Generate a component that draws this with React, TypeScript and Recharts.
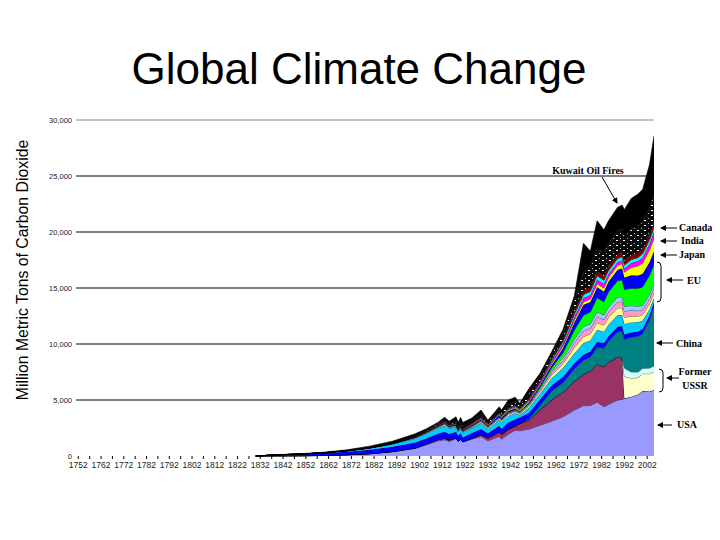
import React from 'react';
import { AreaChart, Area, XAxis, YAxis, CartesianGrid } from 'recharts';

const years = [1830, 1840, 1850, 1860, 1870, 1880, 1890, 1900, 1905, 1910, 1913, 1915, 1918, 1919, 1920, 1921, 1925, 1929, 1932, 1937, 1938, 1941, 1944, 1946, 1950, 1955, 1960, 1965, 1970, 1974, 1977, 1980, 1983, 1985, 1989, 1991, 1992, 1995, 1998, 2000, 2003, 2005];

const usa = [0, 10, 20, 45, 100, 190, 370, 660, 1000, 1350, 1450, 1300, 1550, 1300, 1500, 1250, 1500, 1750, 1350, 1750, 1500, 1950, 2300, 2250, 2400, 2750, 3100, 3500, 4100, 4500, 4500, 4800, 4400, 4600, 5000, 5050, 5150, 5300, 5500, 5800, 5750, 5900];
const formerUssr = [0, 0, 2, 4, 8, 15, 30, 60, 80, 110, 140, 130, 60, 30, 30, 30, 80, 150, 250, 400, 420, 450, 380, 650, 800, 1400, 1900, 2200, 2550, 2800, 3100, 3400, 3600, 3750, 3850, 3700, 0, 0, 0, 0, 0, 0];
const russia = [0, 0, 0, 0, 0, 0, 0, 0, 0, 0, 0, 0, 0, 0, 0, 0, 0, 0, 0, 0, 0, 0, 0, 0, 0, 0, 0, 0, 0, 0, 0, 0, 0, 0, 0, 0, 1950, 1650, 1500, 1550, 1600, 1650];
const otherFsu = [0, 0, 0, 0, 0, 0, 0, 0, 0, 0, 0, 0, 0, 0, 0, 0, 0, 0, 0, 0, 0, 0, 0, 0, 0, 0, 0, 0, 0, 0, 0, 0, 0, 0, 0, 0, 750, 550, 500, 480, 500, 500];
const china = [0, 0, 0, 0, 0, 0, 0, 0, 0, 0, 0, 0, 0, 0, 0, 0, 0, 0, 0, 0, 0, 0, 0, 0, 100, 400, 800, 850, 1150, 1250, 1250, 1500, 1650, 1900, 2250, 2400, 2550, 3100, 3200, 3100, 4300, 5300];
const uk = [0, 95, 140, 210, 280, 360, 430, 480, 500, 530, 580, 540, 550, 480, 520, 380, 480, 520, 440, 540, 520, 580, 600, 540, 550, 520, 500, 500, 480, 480, 470, 480, 450, 450, 450, 450, 440, 430, 420, 420, 410, 400];
const germany = [0, 7, 15, 35, 70, 130, 220, 360, 420, 500, 560, 480, 450, 380, 420, 440, 430, 520, 380, 540, 580, 600, 560, 250, 450, 500, 650, 800, 900, 1050, 1000, 1100, 1000, 1050, 1050, 1000, 950, 900, 850, 750, 550, 400];
const euA = [0, 0, 0, 0, 10, 20, 30, 50, 60, 70, 80, 70, 70, 60, 70, 65, 80, 100, 85, 110, 105, 110, 110, 100, 140, 200, 280, 380, 500, 580, 580, 620, 580, 600, 620, 620, 600, 560, 520, 500, 480, 450];
const euB = [0, 0, 0, 0, 0, 10, 20, 35, 40, 50, 55, 50, 50, 45, 50, 45, 55, 70, 60, 80, 75, 80, 80, 70, 100, 150, 220, 300, 420, 500, 500, 540, 500, 520, 540, 550, 540, 520, 480, 460, 440, 420];
const euC = [0, 0, 0, 0, 0, 0, 10, 20, 25, 30, 35, 30, 30, 30, 35, 30, 40, 50, 40, 55, 50, 55, 55, 50, 70, 110, 160, 230, 330, 400, 400, 430, 400, 420, 430, 440, 430, 420, 400, 390, 380, 380];
const euD = [0, 0, 0, 0, 0, 0, 0, 0, 0, 10, 15, 15, 15, 15, 20, 20, 25, 30, 25, 35, 35, 40, 40, 35, 60, 120, 250, 450, 800, 1000, 1050, 1250, 1200, 1350, 1450, 1500, 1500, 1550, 1600, 1650, 1700, 1700];
const japan = [0, 0, 0, 0, 0, 0, 5, 20, 30, 40, 50, 50, 60, 55, 60, 55, 70, 90, 80, 140, 150, 160, 140, 60, 140, 180, 240, 400, 700, 950, 900, 950, 900, 950, 1000, 1050, 1080, 1150, 1150, 1180, 1200, 1200];
const india = [0, 0, 0, 0, 0, 0, 0, 0, 20, 25, 30, 30, 35, 35, 40, 40, 45, 50, 50, 60, 60, 70, 75, 75, 80, 100, 130, 170, 200, 240, 270, 300, 330, 350, 380, 420, 480, 700, 850, 950, 1050, 1150];
const canada = [0, 0, 0, 0, 0, 0, 0, 20, 30, 50, 60, 50, 60, 50, 60, 50, 60, 80, 55, 70, 65, 90, 100, 100, 130, 150, 180, 220, 270, 350, 360, 400, 380, 300, 300, 300, 320, 400, 450, 500, 560, 600];
const otherCyan = [0, 0, 0, 0, 0, 0, 0, 10, 15, 20, 25, 20, 25, 20, 25, 25, 30, 35, 30, 40, 40, 45, 45, 40, 50, 80, 120, 180, 250, 300, 300, 320, 300, 300, 300, 300, 300, 300, 300, 320, 340, 350];
const otherMaroon = [0, 0, 0, 0, 0, 0, 0, 10, 15, 20, 25, 20, 25, 20, 25, 25, 30, 35, 30, 40, 40, 45, 45, 40, 60, 100, 150, 220, 300, 380, 380, 400, 380, 380, 400, 400, 400, 420, 430, 440, 460, 480];
const otherMesh = [0, 0, 0, 0, 0, 0, 0, 40, 60, 80, 130, 120, 170, 160, 200, 200, 200, 260, 150, 260, 240, 320, 330, 240, 450, 380, 380, 550, 900, 1600, 1900, 2000, 2100, 2100, 2100, 2100, 2200, 2300, 2400, 2400, 2400, 2500];
const restOfWorld = [0, 8, 23, 46, 82, 155, 205, 215, 135, 115, 215, 195, 350, 320, 395, 345, 275, 360, 175, 280, 220, 405, 390, 200, 420, 260, 240, 350, 450, 2620, 1340, 2510, 2030, 1980, 2080, 2120, 2360, 2750, 2850, 2910, 3880, 5220];

const majorTicks = [1752, 1762, 1772, 1782, 1792, 1802, 1812, 1822, 1832, 1842, 1852, 1862, 1872, 1882, 1892, 1902, 1912, 1922, 1932, 1942, 1952, 1962, 1972, 1982, 1992, 2002];
const minorTicks = [1757, 1767, 1777, 1787, 1797, 1807, 1817, 1827, 1837, 1847, 1857, 1867, 1877, 1887, 1897, 1907, 1917, 1927, 1937, 1947, 1957, 1967, 1977, 1987, 1997];
const yTicks = [0, 5000, 10000, 15000, 20000, 25000, 30000];

const series = [
  { key: 'usa', values: usa, fill: '#9999FF' },
  { key: 'formerUssr', values: formerUssr, fill: '#993366' },
  { key: 'russia', values: russia, fill: '#FFFFCC' },
  { key: 'otherFsu', values: otherFsu, fill: '#CCFFFF' },
  { key: 'china', values: china, fill: '#008080' },
  { key: 'uk', values: uk, fill: '#0000FF' },
  { key: 'germany', values: germany, fill: '#00CCFF' },
  { key: 'euA', values: euA, fill: '#FFFF99' },
  { key: 'euB', values: euB, fill: '#FF99CC' },
  { key: 'euC', values: euC, fill: '#99CCFF' },
  { key: 'euD', values: euD, fill: '#00FF00' },
  { key: 'japan', values: japan, fill: '#0000FF' },
  { key: 'india', values: india, fill: '#FFFF00' },
  { key: 'canada', values: canada, fill: '#FF00FF' },
  { key: 'otherCyan', values: otherCyan, fill: '#00FFFF' },
  { key: 'otherMaroon', values: otherMaroon, fill: '#800000' },
  { key: 'otherMesh', values: otherMesh, fill: 'url(#meshPattern)' },
  { key: 'restOfWorld', values: restOfWorld, fill: '#000000' },
];

const data = years.map((year, i) => {
  const row: Record<string, number> = { year };
  series.forEach((s) => {
    row[s.key] = s.values[i];
  });
  return row;
});

const allTicks = [...majorTicks, ...minorTicks].sort((a, b) => a - b);

const sansFont = 'Liberation Sans, Arial, sans-serif';
const serifFont = 'Liberation Serif, Times New Roman, serif';

const XTick = (props: any) => {
  const { x, y, payload } = props;
  if (!majorTicks.includes(payload.value)) return null;
  return (
    <text x={x} y={y} dy="0.71em" textAnchor="middle" fontSize={8.5} fill="#222" fontFamily={sansFont}>
      {payload.value}
    </text>
  );
};

export default function App() {
  return (
    <div style={{ position: 'absolute', left: 0, top: 0, width: 720, height: 540, background: '#fff', overflow: 'hidden' }}>
      <svg width={0} height={0} style={{ position: 'absolute' }}>
        <defs>
          <pattern id="meshPattern" width="7" height="5" patternUnits="userSpaceOnUse">
            <rect width="7" height="5" fill="#0a0a0a" />
            <rect x="0" y="0" width="2" height="1" fill="#fff" />
            <rect x="4" y="3" width="1" height="1" fill="#bbb" />
          </pattern>
        </defs>
      </svg>
      <AreaChart width={720} height={540} data={data} margin={{ top: 120, right: 66, bottom: 0, left: 0 }}>
        <CartesianGrid horizontal vertical={false} horizontalValues={[5000, 10000, 15000, 20000, 25000]} stroke="#000" strokeWidth={1} />
        <CartesianGrid horizontal vertical={false} horizontalValues={[30000]} stroke="#888" strokeWidth={1} />
        <XAxis
          dataKey="year"
          type="number"
          domain={[1751, 2005]}
          ticks={allTicks}
          interval={0}
          allowDataOverflow
          height={84}
          axisLine={false}
          tickLine={{ stroke: '#000' }}
          tickSize={3}
          tickMargin={3}
          tick={<XTick />}
        />
        <YAxis
          type="number"
          domain={[0, 30000]}
          ticks={yTicks}
          interval={0}
          width={76}
          axisLine={false}
          tickLine={false}
          tickSize={2}
          tickMargin={2}
          tick={{ fontSize: 7.5, fill: '#222', fontFamily: sansFont }}
          tickFormatter={(v: number) => v.toLocaleString('en-US')}
        />
        {series.map((s) => (
          <Area
            key={s.key}
            type="linear"
            dataKey={s.key}
            stackId="all"
            stroke="#000"
            strokeWidth={0.6}
            fill={s.fill}
            fillOpacity={1}
            isAnimationActive={false}
            dot={false}
            activeDot={false}
          />
        ))}
      </AreaChart>
      <svg width={720} height={540} style={{ position: 'absolute', left: 0, top: 0, pointerEvents: 'none' }}>
        <defs>
          <marker id="arrowHead" markerWidth="6" markerHeight="6" refX="5" refY="3" orient="auto" markerUnits="userSpaceOnUse">
            <path d="M0,0 L6,3 L0,6 z" fill="#000" />
          </marker>
        </defs>
        <text x={359} y={84} textAnchor="middle" fontFamily={sansFont} fontSize={44} fill="#000">Global Climate Change</text>
        <text transform="translate(28,270) rotate(-90)" textAnchor="middle" fontFamily={sansFont} fontSize={15.8} fill="#000">Million Metric Tons of Carbon Dioxide</text>

        <text x={588} y={174} textAnchor="middle" fontFamily={serifFont} fontWeight="bold" fontSize={10}>Kuwait Oil Fires</text>
        <line x1={602} y1={177} x2={617} y2={203} stroke="#000" strokeWidth={1} markerEnd="url(#arrowHead)" />

        <line x1={677} y1={228} x2={661} y2={228} stroke="#000" strokeWidth={1} markerEnd="url(#arrowHead)" />
        <text x={679} y={231} fontFamily={serifFont} fontWeight="bold" fontSize={10}>Canada</text>
        <line x1={677} y1={241} x2={661} y2={241} stroke="#000" strokeWidth={1} markerEnd="url(#arrowHead)" />
        <text x={681} y={244} fontFamily={serifFont} fontWeight="bold" fontSize={10}>India</text>
        <line x1={677} y1={255} x2={661} y2={255} stroke="#000" strokeWidth={1} markerEnd="url(#arrowHead)" />
        <text x={679} y={258} fontFamily={serifFont} fontWeight="bold" fontSize={10}>Japan</text>

        <path d="M657,262 Q661,262 661,266 L661,298 Q661,302 657,302" fill="none" stroke="#000" strokeWidth={1} />
        <line x1={683} y1={280} x2={667} y2={280} stroke="#000" strokeWidth={1} markerEnd="url(#arrowHead)" />
        <text x={687} y={284} fontFamily={serifFont} fontWeight="bold" fontSize={10}>EU</text>

        <line x1={673} y1={343} x2={657} y2={343} stroke="#000" strokeWidth={1} markerEnd="url(#arrowHead)" />
        <text x={676} y={347} fontFamily={serifFont} fontWeight="bold" fontSize={10}>China</text>

        <path d="M659,369 Q663,369 663,373 L663,388 Q663,392 659,392" fill="none" stroke="#000" strokeWidth={1} />
        <line x1={679} y1={378} x2={667} y2={378} stroke="#000" strokeWidth={1} markerEnd="url(#arrowHead)" />
        <text x={695} y={375} textAnchor="middle" fontFamily={serifFont} fontWeight="bold" fontSize={10}>Former</text>
        <text x={695} y={389} textAnchor="middle" fontFamily={serifFont} fontWeight="bold" fontSize={10}>USSR</text>

        <line x1={672} y1={425} x2={658} y2={425} stroke="#000" strokeWidth={1} markerEnd="url(#arrowHead)" />
        <text x={677} y={428} fontFamily={serifFont} fontWeight="bold" fontSize={10}>USA</text>
      </svg>
    </div>
  );
}
